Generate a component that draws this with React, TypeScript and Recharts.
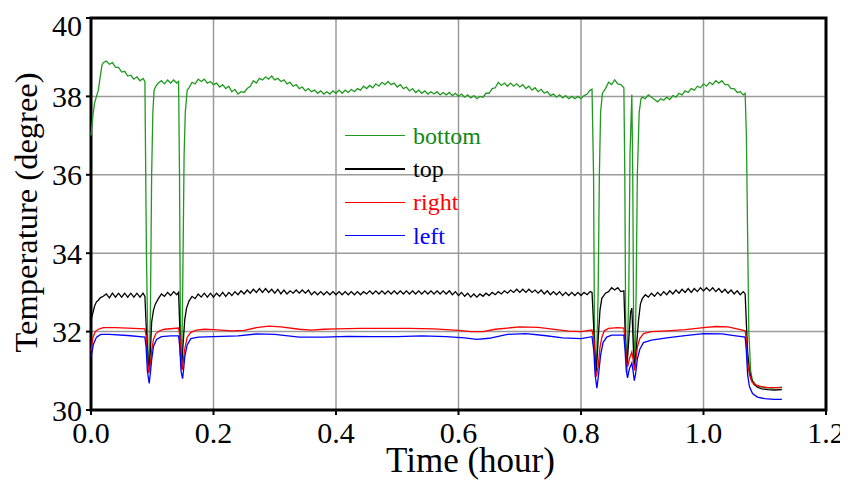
import React from 'react'
import {
  LineChart, Line, XAxis, YAxis, CartesianGrid, Legend, ReferenceArea,
} from 'recharts'

const FONT = '"Liberation Serif", "Times New Roman", serif'

const X_TICKS = [0, 0.2, 0.4, 0.6, 0.8, 1.0, 1.2]
const Y_TICKS = [30, 32, 34, 36, 38, 40]

// [time (hour), temperature]
const BOTTOM: [number, number][] = [
  [0, 37.0], [0.003, 37.5], [0.006, 37.85], [0.009, 38.0], [0.012, 38.16], [0.015, 38.5], [0.018, 38.8], [0.02, 38.86],
  [0.025, 38.9], [0.03, 38.82], [0.035, 38.86], [0.04, 38.74], [0.045, 38.74], [0.05, 38.62], [0.055, 38.64], [0.06, 38.52],
  [0.065, 38.54], [0.07, 38.44], [0.075, 38.5], [0.08, 38.4], [0.085, 38.46], [0.088, 38.38],
  [0.0905, 34.0], [0.093, 31.5], [0.095, 31.0], [0.097, 32.5], [0.099, 36.0], [0.101, 37.6], [0.103, 38.16], [0.106, 38.26],
  [0.11, 38.34], [0.115, 38.4], [0.12, 38.32], [0.125, 38.42], [0.13, 38.34], [0.135, 38.42], [0.14, 38.34], [0.143, 38.38],
  [0.1445, 36.0], [0.146, 32.0], [0.148, 31.05], [0.15, 33.5], [0.152, 36.5], [0.154, 37.6], [0.157, 38.16], [0.16, 38.22],
  [0.165, 38.36], [0.17, 38.32], [0.175, 38.44], [0.18, 38.38], [0.185, 38.44], [0.19, 38.34], [0.195, 38.38], [0.2, 38.3],
  [0.205, 38.34], [0.21, 38.24], [0.215, 38.3], [0.22, 38.2], [0.225, 38.26], [0.23, 38.12], [0.235, 38.18], [0.24, 38.06],
  [0.245, 38.12], [0.25, 38.1], [0.255, 38.2], [0.26, 38.26], [0.265, 38.4], [0.27, 38.34], [0.275, 38.46], [0.28, 38.42],
  [0.285, 38.5], [0.29, 38.44], [0.295, 38.52], [0.3, 38.42], [0.305, 38.46], [0.31, 38.38], [0.315, 38.42], [0.32, 38.32],
  [0.325, 38.36], [0.33, 38.26], [0.335, 38.3], [0.34, 38.2], [0.345, 38.24], [0.35, 38.14], [0.355, 38.2], [0.36, 38.12],
  [0.365, 38.16], [0.37, 38.08], [0.375, 38.14], [0.38, 38.06], [0.385, 38.12], [0.39, 38.06], [0.395, 38.14], [0.4, 38.08],
  [0.405, 38.16], [0.41, 38.08], [0.415, 38.16], [0.42, 38.1], [0.425, 38.18], [0.43, 38.12], [0.435, 38.2], [0.44, 38.16],
  [0.445, 38.26], [0.45, 38.2], [0.455, 38.28], [0.46, 38.22], [0.465, 38.32], [0.47, 38.26], [0.475, 38.36], [0.48, 38.3],
  [0.485, 38.38], [0.49, 38.3], [0.495, 38.34], [0.5, 38.24], [0.505, 38.3], [0.51, 38.2], [0.515, 38.24], [0.52, 38.14],
  [0.525, 38.2], [0.53, 38.1], [0.535, 38.16], [0.54, 38.08], [0.545, 38.14], [0.55, 38.06], [0.555, 38.12], [0.56, 38.06],
  [0.565, 38.12], [0.57, 38.04], [0.575, 38.1], [0.58, 38.04], [0.585, 38.1], [0.59, 38.02], [0.595, 38.08], [0.6, 38.0],
  [0.605, 38.06], [0.61, 37.98], [0.615, 38.04], [0.62, 37.96], [0.625, 38.02], [0.63, 37.94], [0.635, 38.0], [0.64, 37.98],
  [0.645, 38.08], [0.65, 38.08], [0.655, 38.2], [0.66, 38.22], [0.665, 38.36], [0.67, 38.28], [0.675, 38.34], [0.68, 38.26],
  [0.685, 38.34], [0.69, 38.26], [0.695, 38.32], [0.7, 38.24], [0.705, 38.3], [0.71, 38.2], [0.715, 38.26], [0.72, 38.16],
  [0.725, 38.22], [0.73, 38.12], [0.735, 38.18], [0.74, 38.08], [0.745, 38.12], [0.75, 38.02], [0.755, 38.06], [0.76, 37.98],
  [0.765, 38.04], [0.77, 37.96], [0.775, 38.02], [0.78, 37.94], [0.785, 38.0], [0.79, 37.94], [0.795, 38.0], [0.8, 37.94],
  [0.805, 38.02], [0.81, 38.06], [0.815, 38.16], [0.818, 38.18],
  [0.8205, 36.0], [0.822, 32.0], [0.825, 30.9], [0.828, 33.0], [0.83, 36.0], [0.832, 37.6], [0.835, 38.08], [0.84, 38.2],
  [0.845, 38.36], [0.85, 38.3], [0.855, 38.42], [0.86, 38.32], [0.865, 38.3], [0.87, 38.22],
  [0.8715, 36.0], [0.873, 32.0], [0.875, 30.95], [0.878, 33.0], [0.88, 36.5], [0.883, 38.04],
  [0.8845, 36.0], [0.886, 32.0], [0.888, 31.0], [0.89, 33.0], [0.892, 36.0], [0.895, 37.6], [0.898, 37.94], [0.9, 37.98],
  [0.905, 37.94], [0.91, 38.04], [0.915, 37.98], [0.92, 37.92], [0.925, 37.86], [0.93, 37.94], [0.935, 37.9], [0.94, 37.98],
  [0.945, 37.92], [0.95, 38.02], [0.955, 37.98], [0.96, 38.08], [0.965, 38.04], [0.97, 38.14], [0.975, 38.1], [0.98, 38.2],
  [0.985, 38.16], [0.99, 38.26], [0.995, 38.22], [1.0, 38.32], [1.005, 38.26], [1.01, 38.36], [1.015, 38.3], [1.02, 38.4],
  [1.025, 38.34], [1.03, 38.4], [1.035, 38.3], [1.04, 38.3], [1.045, 38.2], [1.05, 38.2], [1.055, 38.1], [1.06, 38.12],
  [1.065, 38.04], [1.068, 38.08],
  [1.07, 37.0], [1.072, 34.5], [1.074, 32.0], [1.077, 31.0], [1.08, 30.75], [1.085, 30.65], [1.09, 30.6], [1.1, 30.57],
  [1.11, 30.56], [1.12, 30.57], [1.128, 30.58],
]

const TOP: [number, number][] = [
  [0, 32.3], [0.003, 32.47], [0.006, 32.66], [0.009, 32.76], [0.012, 32.8], [0.015, 32.86], [0.02, 32.9],
  [0.025, 32.96], [0.03, 32.86], [0.035, 32.98], [0.04, 32.88], [0.045, 32.98], [0.05, 32.88], [0.055, 32.98], [0.06, 32.88],
  [0.065, 32.98], [0.07, 32.88], [0.075, 32.98], [0.08, 32.88], [0.085, 32.98], [0.088, 32.9],
  [0.0905, 32.0], [0.093, 31.3], [0.095, 31.05], [0.097, 31.5], [0.099, 32.24], [0.102, 32.55], [0.105, 32.7], [0.11, 32.84],
  [0.115, 32.96], [0.12, 32.9], [0.125, 33.0], [0.13, 32.92], [0.135, 33.02], [0.14, 32.94], [0.143, 33.0],
  [0.1445, 32.3], [0.146, 31.4], [0.148, 31.1], [0.15, 31.6], [0.153, 32.3], [0.156, 32.6], [0.16, 32.78], [0.165, 32.9],
  [0.17, 32.84], [0.175, 32.96], [0.18, 32.88], [0.185, 32.98], [0.19, 32.88], [0.195, 32.98], [0.2, 32.88], [0.205, 32.98],
  [0.21, 32.9], [0.215, 33.0], [0.22, 32.9], [0.225, 33.0], [0.23, 32.92], [0.235, 33.02], [0.24, 32.94], [0.245, 33.04],
  [0.25, 32.96], [0.255, 33.06], [0.26, 32.98], [0.265, 33.08], [0.27, 33.0], [0.275, 33.1], [0.28, 33.0], [0.285, 33.1],
  [0.29, 33.0], [0.295, 33.08], [0.3, 32.98], [0.305, 33.08], [0.31, 32.96], [0.315, 33.06], [0.32, 32.96], [0.325, 33.04],
  [0.33, 32.98], [0.335, 33.06], [0.34, 32.98], [0.345, 33.06], [0.35, 32.98], [0.355, 33.06], [0.36, 32.94], [0.365, 33.02],
  [0.37, 32.94], [0.375, 33.02], [0.38, 32.94], [0.385, 33.02], [0.39, 32.94], [0.395, 33.02], [0.4, 32.94], [0.405, 33.02],
  [0.41, 32.94], [0.415, 33.02], [0.42, 32.94], [0.425, 33.02], [0.43, 32.94], [0.435, 33.02], [0.44, 32.94], [0.445, 33.02],
  [0.45, 32.96], [0.455, 33.04], [0.46, 32.96], [0.465, 33.04], [0.47, 32.96], [0.475, 33.04], [0.48, 32.96], [0.485, 33.04],
  [0.49, 32.96], [0.495, 33.04], [0.5, 32.96], [0.505, 33.04], [0.51, 32.96], [0.515, 33.04], [0.52, 32.96], [0.525, 33.04],
  [0.53, 32.96], [0.535, 33.04], [0.54, 32.96], [0.545, 33.04], [0.55, 32.96], [0.555, 33.04], [0.56, 32.96], [0.565, 33.04],
  [0.57, 32.96], [0.575, 33.04], [0.58, 32.96], [0.585, 33.04], [0.59, 32.94], [0.595, 33.02], [0.6, 32.92], [0.605, 33.0],
  [0.61, 32.9], [0.615, 32.98], [0.62, 32.88], [0.625, 32.96], [0.63, 32.88], [0.635, 32.96], [0.64, 32.9], [0.645, 32.98],
  [0.65, 32.92], [0.655, 33.0], [0.66, 32.94], [0.665, 33.02], [0.67, 32.96], [0.675, 33.04], [0.68, 32.98], [0.685, 33.06],
  [0.69, 33.0], [0.695, 33.08], [0.7, 33.0], [0.705, 33.08], [0.71, 33.0], [0.715, 33.08], [0.72, 33.0], [0.725, 33.06],
  [0.73, 32.98], [0.735, 33.06], [0.74, 32.96], [0.745, 33.04], [0.75, 32.94], [0.755, 33.02], [0.76, 32.94], [0.765, 33.02],
  [0.77, 32.92], [0.775, 33.0], [0.78, 32.92], [0.785, 33.0], [0.79, 32.92], [0.795, 33.0], [0.8, 32.92], [0.805, 33.0],
  [0.81, 32.94], [0.815, 33.02], [0.818, 33.0],
  [0.8205, 32.2], [0.822, 31.5], [0.825, 31.0], [0.828, 31.8], [0.831, 32.55], [0.834, 32.85], [0.84, 32.98], [0.845, 33.02],
  [0.85, 33.12], [0.855, 33.06], [0.86, 33.12], [0.865, 33.02], [0.87, 33.04],
  [0.8715, 32.3], [0.873, 31.5], [0.875, 31.1], [0.878, 31.8], [0.881, 32.5], [0.883, 32.6],
  [0.8845, 32.0], [0.886, 31.4], [0.888, 31.1], [0.891, 31.7], [0.894, 32.3], [0.897, 32.7], [0.9, 32.84], [0.905, 32.94],
  [0.91, 32.88], [0.915, 32.98], [0.92, 32.9], [0.925, 33.0], [0.93, 32.92], [0.935, 33.02], [0.94, 32.94], [0.945, 33.04],
  [0.95, 32.96], [0.955, 33.06], [0.96, 32.98], [0.965, 33.08], [0.97, 33.0], [0.975, 33.1], [0.98, 33.0], [0.985, 33.1],
  [0.99, 33.02], [0.995, 33.12], [1.0, 33.04], [1.005, 33.12], [1.01, 33.04], [1.015, 33.12], [1.02, 33.02], [1.025, 33.1],
  [1.03, 33.0], [1.035, 33.08], [1.04, 32.98], [1.045, 33.06], [1.05, 32.96], [1.055, 33.04], [1.06, 32.94], [1.065, 33.02],
  [1.068, 32.96],
  [1.07, 32.2], [1.072, 31.5], [1.075, 31.0], [1.078, 30.8], [1.082, 30.66], [1.088, 30.58], [1.095, 30.54], [1.105, 30.52],
  [1.115, 30.51], [1.128, 30.52],
]

const RIGHT: [number, number][] = [
  [0, 31.5], [0.003, 31.84], [0.007, 32.0], [0.012, 32.06], [0.02, 32.1], [0.04, 32.1], [0.06, 32.09], [0.088, 32.07],
  [0.09, 31.9], [0.092, 31.3], [0.0945, 30.94], [0.097, 31.2], [0.099, 31.5], [0.102, 31.8], [0.106, 31.95], [0.112, 32.02],
  [0.12, 32.06], [0.143, 32.09], [0.145, 31.9], [0.147, 31.3], [0.149, 31.02], [0.151, 31.3], [0.153, 31.55], [0.157, 31.85],
  [0.163, 31.98], [0.172, 32.04], [0.185, 32.06], [0.2, 32.05], [0.23, 32.02], [0.25, 32.03], [0.27, 32.1], [0.29, 32.14],
  [0.31, 32.12], [0.34, 32.06], [0.36, 32.04], [0.38, 32.06], [0.4, 32.07], [0.44, 32.08], [0.48, 32.08], [0.52, 32.08],
  [0.56, 32.07], [0.6, 32.03], [0.62, 32.0], [0.64, 32.0], [0.66, 32.06], [0.7, 32.12], [0.73, 32.11], [0.76, 32.05],
  [0.78, 32.01], [0.8, 32.0], [0.818, 32.04], [0.821, 31.8], [0.823, 31.1], [0.825, 30.85], [0.828, 31.1], [0.831, 31.6],
  [0.834, 31.85], [0.838, 32.02], [0.845, 32.08], [0.86, 32.1], [0.87, 32.09], [0.872, 31.8], [0.874, 31.25], [0.876, 31.1],
  [0.879, 31.3], [0.883, 31.48], [0.885, 31.3], [0.887, 31.02], [0.889, 31.2], [0.892, 31.6], [0.896, 31.82], [0.902, 31.95],
  [0.915, 32.0], [0.94, 32.02], [0.97, 32.05], [1.0, 32.1], [1.02, 32.13], [1.04, 32.12], [1.06, 32.05], [1.068, 32.02],
  [1.07, 31.8], [1.072, 31.2], [1.075, 30.9], [1.079, 30.72], [1.085, 30.64], [1.093, 30.6], [1.105, 30.57], [1.128, 30.57],
]

const LEFT: [number, number][] = [
  [0, 31.35], [0.004, 31.68], [0.009, 31.86], [0.016, 31.93], [0.03, 31.93], [0.06, 31.9], [0.088, 31.86], [0.09, 31.6],
  [0.092, 31.0], [0.095, 30.68], [0.097, 30.95], [0.099, 31.28], [0.102, 31.62], [0.107, 31.8], [0.115, 31.87], [0.13, 31.89],
  [0.143, 31.89], [0.145, 31.6], [0.147, 31.0], [0.1495, 30.8], [0.151, 31.0], [0.153, 31.35], [0.157, 31.66], [0.163, 31.82],
  [0.175, 31.86], [0.2, 31.87], [0.24, 31.89], [0.27, 31.94], [0.3, 31.93], [0.34, 31.86], [0.38, 31.86], [0.42, 31.88],
  [0.46, 31.87], [0.5, 31.87], [0.54, 31.89], [0.58, 31.87], [0.61, 31.84], [0.63, 31.8], [0.65, 31.83], [0.68, 31.93],
  [0.71, 31.95], [0.74, 31.9], [0.77, 31.84], [0.8, 31.82], [0.818, 31.87], [0.821, 31.5], [0.823, 30.9], [0.826, 30.56],
  [0.829, 30.95], [0.832, 31.4], [0.836, 31.72], [0.842, 31.86], [0.85, 31.91], [0.87, 31.91], [0.872, 31.5], [0.874, 31.0],
  [0.876, 30.82], [0.879, 31.05], [0.883, 31.2], [0.885, 31.0], [0.887, 30.75], [0.889, 30.9], [0.892, 31.3], [0.896, 31.55],
  [0.902, 31.72], [0.915, 31.78], [0.94, 31.84], [0.97, 31.9], [1.0, 31.95], [1.03, 31.94], [1.05, 31.9], [1.068, 31.86],
  [1.07, 31.5], [1.072, 30.9], [1.075, 30.6], [1.08, 30.42], [1.088, 30.33], [1.1, 30.29], [1.115, 30.27], [1.128, 30.27],
]

const toRows = (pts: [number, number][]) => pts.map(([t, v]) => ({ t, v }))

const SERIES = [
  { name: 'bottom', color: '#1f9a1f', text: '#118811', data: toRows(BOTTOM) },
  { name: 'top', color: '#000000', text: '#000000', data: toRows(TOP) },
  { name: 'right', color: '#ff0000', text: '#ff0000', data: toRows(RIGHT) },
  { name: 'left', color: '#0000ff', text: '#0000ff', data: toRows(LEFT) },
]

const renderLegend = () => (
  <div style={{ fontFamily: FONT, fontSize: 24, lineHeight: 1 }}>
    {SERIES.map((s) => (
      <div key={s.name} style={{ display: 'flex', alignItems: 'center', height: 33.3 }}>
        <div style={{ width: 60, height: 1.2, background: s.color, marginRight: 8 }} />
        <span style={{ color: s.text }}>{s.name}</span>
      </div>
    ))}
  </div>
)

export default function App() {
  return (
    <div style={{ width: 840, height: 472 }}>
      <LineChart width={840} height={472} margin={{ top: 10, right: 22, bottom: 0, left: 0 }}>
        <CartesianGrid stroke="#9b9b9b" strokeWidth={1.5} />
        <XAxis
          dataKey="t"
          type="number"
          domain={[0, 1.2]}
          ticks={X_TICKS}
          tickFormatter={(v) => Number(v).toFixed(1)}
          axisLine={false}
          tickLine={{ stroke: '#000', strokeWidth: 2 }}
          tickSize={5}
          tickMargin={7}
          height={70}
          tick={{ fill: '#000', fontSize: 30, fontFamily: FONT }}
          label={(props: any) => {
            const vb = props.viewBox || { x: 83, y: 402, width: 735, height: 70 }
            return (
              <text x={vb.x + vb.width / 2 + 12} y={vb.y + 62} textAnchor="middle"
                fill="#000" fontSize={35} fontFamily={FONT}>Time (hour)</text>
            )
          }}
        />
        <YAxis
          type="number"
          domain={[30, 40]}
          ticks={Y_TICKS}
          axisLine={false}
          tickLine={{ stroke: '#000', strokeWidth: 2 }}
          tickSize={5}
          tickMargin={4}
          width={83}
          tick={{ fill: '#000', fontSize: 30, fontFamily: FONT }}
          label={(props: any) => {
            const vb = props.viewBox || { x: 0, y: 10, width: 83, height: 392 }
            const cx = vb.x + 29
            const cy = vb.y + vb.height / 2 - 1.5
            return (
              <text x={cx} y={cy} transform={`rotate(-90, ${cx}, ${cy})`} textAnchor="middle"
                fill="#000" fontSize={32.5} fontFamily={FONT}>Temperature (degree)</text>
            )
          }}
        />
        {SERIES.map((s) => (
          <Line
            key={s.name}
            data={s.data}
            dataKey="v"
            name={s.name}
            type="linear"
            stroke={s.color}
            strokeWidth={1.3}
            dot={false}
            isAnimationActive={false}
          />
        ))}
        <ReferenceArea x1={0} x2={1.2} y1={30} y2={40} fill="none" stroke="#000" strokeWidth={3} />
        <Legend
          layout="vertical"
          align="center"
          verticalAlign="middle"
          content={renderLegend}
          wrapperStyle={{ left: 337, top: 111, width: 'auto' }}
        />
      </LineChart>
    </div>
  )
}
